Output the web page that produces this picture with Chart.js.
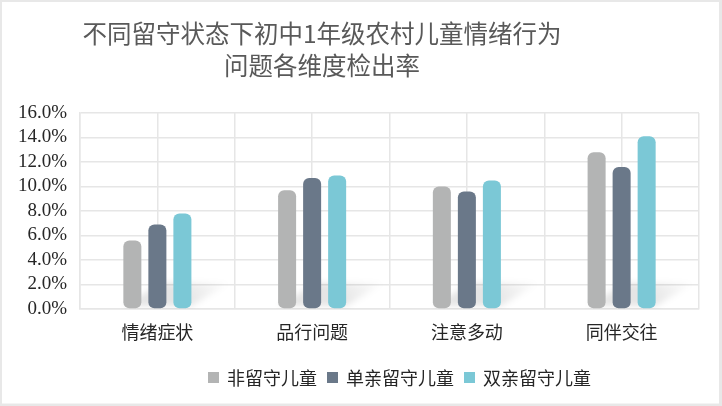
<!DOCTYPE html>
<html><head><meta charset="utf-8">
<script src="https://cdn.jsdelivr.net/npm/chart.js@4"></script>
<style>html,body{margin:0;padding:0;background:#fff}#wrap{width:722px;height:406px;position:relative}</style>
</head><body><div id="wrap"><canvas id="c" width="722" height="406"></canvas></div>
<script>
const titleLines = ['不同留守状态下初中1年级农村儿童情绪行为', '问题各维度检出率'];
const categories = ['情绪症状', '品行问题', '注意多动', '同伴交往'];
const seriesNames = ['非留守儿童', '单亲留守儿童', '双亲留守儿童'];
const nonLeftBehind = [5.6, 9.7, 10.0, 12.8];
const singleParent = [6.9, 10.7, 9.6, 11.6];
const bothParents = [7.8, 10.9, 10.5, 14.1];
const yMin = 0, yMax = 16, yStep = 2;
const colors = ['#b3b4b4', '#6a7889', '#7bc8d6'];

const CJK = '"Noto Sans CJK SC", "Noto Sans", sans-serif';
const gridColor = '#e6e6e6';

const decor = {
  id: 'decor',
  beforeDraw(chart) {
    const ctx = chart.ctx;
    ctx.save();
    ctx.fillStyle = '#fff';
    ctx.fillRect(0, 0, chart.width, chart.height);
    ctx.restore();
  },
  beforeDatasetsDraw(chart) {
    const ctx = chart.ctx;
    const m0 = chart.getDatasetMeta(0), m2 = chart.getDatasetMeta(2);
    const y0 = chart.scales.y.getPixelForValue(0);
    ctx.save();
    ctx.beginPath();
    ctx.rect(chart.chartArea.left, chart.chartArea.top, chart.chartArea.right - chart.chartArea.left, chart.chartArea.bottom - chart.chartArea.top);
    ctx.clip();
    ctx.filter = 'blur(3px)';
    for (let i = 0; i < categories.length; i++) {
      const b0 = m0.data[i], b2 = m2.data[i];
      const l = b0.x - b0.width / 2, r = b2.x + b2.width / 2;
      const g = ctx.createLinearGradient(r, y0, r + 40, y0 - 26);
      g.addColorStop(0, 'rgba(0,0,0,0.10)');
      g.addColorStop(1, 'rgba(0,0,0,0)');
      ctx.fillStyle = g;
      ctx.beginPath();
      ctx.moveTo(l, y0 - 3);
      ctx.lineTo(r, y0 - 3);
      ctx.lineTo(r + 38, y0 - 26);
      ctx.lineTo(l + 38, y0 - 26);
      ctx.closePath();
      ctx.fill();
    }
    ctx.restore();
  },
  afterDraw(chart) {
    const ctx = chart.ctx;
    ctx.save();
    // title
    ctx.fillStyle = '#595959';
    ctx.font = '24.5px ' + CJK;
    ctx.textAlign = 'center';
    ctx.textBaseline = 'middle';
    ctx.fillText(titleLines[0], 322, 34);
    ctx.fillText(titleLines[1], 322, 66);
    // legend
    ctx.font = '18px ' + CJK;
    ctx.textAlign = 'left';
    let x = 208;
    const ly = 377;
    for (let i = 0; i < seriesNames.length; i++) {
      ctx.fillStyle = colors[i];
      ctx.fillRect(x, ly - 5, 11, 11);
      x += 19;
      ctx.fillStyle = '#262626';
      ctx.fillText(seriesNames[i], x, ly + 1);
      x += ctx.measureText(seriesNames[i]).width + 10;
    }
    // outer border
    ctx.strokeStyle = '#e8e8e8';
    ctx.lineWidth = 3;
    ctx.strokeRect(0.5, 0.5, chart.width - 2, chart.height - 1.5);
    ctx.restore();
  }
};

const seriesData = [nonLeftBehind, singleParent, bothParents];
const datasets = seriesNames.map((name, i) => ({
  label: name,
  data: seriesData[i],
  backgroundColor: colors[i],
  borderRadius: 6,
  borderSkipped: false,
  categoryPercentage: 0.485,
  barPercentage: 0.72,
  xAxisID: 'x'
}));

new Chart(document.getElementById('c'), {
  type: 'bar',
  data: { labels: categories, datasets },
  plugins: [decor],
  options: {
    responsive: false,
    animation: false,
    layout: { padding: { top: 113, right: 23, bottom: 52, left: 0 } },
    plugins: { legend: { display: false }, title: { display: false }, tooltip: { enabled: false } },
    scales: {
      x: {
        type: 'category',
        position: 'bottom',
        offset: true,
        grid: { offset: true, color: gridColor, lineWidth: 1.5, drawTicks: false },
        border: { display: true, color: gridColor, width: 1.5 },
        ticks: { font: { family: CJK, size: 18 }, color: '#262626', padding: 12 },
        afterFit(s) { s.height = 45; }
      },
      x2: {
        type: 'category',
        labels: categories,
        position: 'bottom',
        offset: true,
        grid: { offset: false, color: gridColor, lineWidth: 1.5, drawTicks: false },
        border: { display: false },
        ticks: { display: false },
        afterFit(s) { s.height = 0; }
      },
      y: {
        min: yMin, max: yMax,
        ticks: {
          stepSize: yStep,
          autoSkip: false,
          callback: v => v.toFixed(1) + '%',
          font: { family: '"Liberation Serif", "Times New Roman", serif', size: 19 },
          color: '#262626',
          padding: 13
        },
        grid: { color: gridColor, lineWidth: 1.5, drawTicks: false },
        border: { display: true, color: gridColor, width: 1.5 },
        afterFit(s) { s.width = 80; }
      }
    }
  }
});
</script>
</body></html>
